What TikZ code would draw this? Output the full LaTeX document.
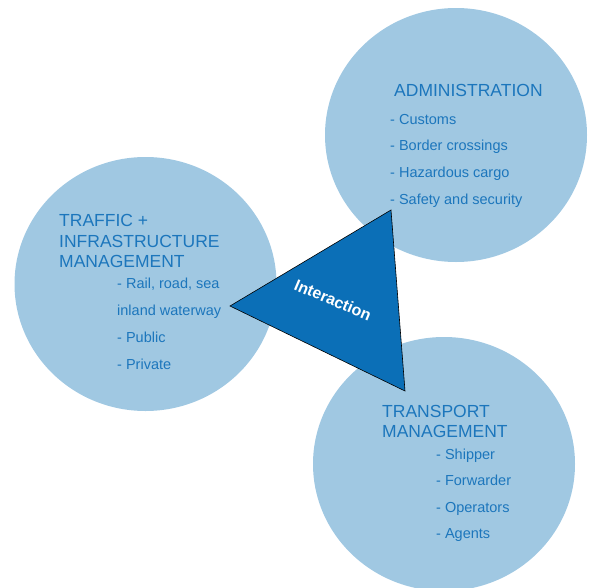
\documentclass[tikz,border=0pt]{standalone}
\usepackage{fontspec}
\setmainfont{Liberation Sans}
\usepackage{tikz}
\usetikzlibrary{calc}
\usetikzlibrary{positioning}
\usetikzlibrary{shapes.geometric}
\definecolor{circblue}{HTML}{A0C8E2}
\definecolor{textblue}{HTML}{1C76BC}
\definecolor{triblue}{HTML}{0B6FB7}
\tikzset{disc/.style={ellipse,fill=circblue,draw=none,inner sep=0pt,minimum width=262pt,minimum height=254pt}}
\tikzset{head/.style={anchor=base west,inner sep=0pt,text=textblue,font=\fontsize{17.5}{20}\selectfont}}
\tikzset{item/.style={anchor=base west,inner sep=0pt,text=textblue,font=\fontsize{14.5}{17}\selectfont}}

\begin{document}
\begin{tikzpicture}[x=1pt,y=-1pt]
\useasboundingbox (0,0) rectangle (592,587);
% the three fields
\node[disc](ADM) at (456,135){};
\node[disc](TIM) at (145.5,284){};
\node[disc](TRM) at (444,464){};

% triangle in the middle
\coordinate (T1) at (230,306);
\coordinate (T2) at (391,210);
\coordinate (T3) at (405,391);
\draw[fill=triblue,draw=black,line width=0.6pt] (T1)--(T2)--(T3)--cycle;
\node[text=white,rotate=-23,inner sep=0pt,font=\bfseries\fontsize{16}{18}\selectfont](INT) at (333,300){Interaction};

% administration
\node[head](ADMh) at (394,96.7){ADMINISTRATION};
\foreach \t [count=\i from 0] in {Customs,Border crossings,Hazardous cargo,Safety and security}{
\node[item](ADM\i) at (390,124+26.7*\i){- \t};
}

% traffic + infrastructure
\foreach \t [count=\i from 0] in {TRAFFIC +,INFRASTRUCTURE,MANAGEMENT}{
\node[head](TIMh\i) at (59,226.7+20.3*\i){\t};
}
\foreach \t [count=\i from 0] in {{- Rail, road, sea},{inland waterway},{- Public},{- Private}}{
\node[item](TIM\i) at (117,288.3+26.9*\i){\t};
}

% transport management
\foreach \t [count=\i from 0] in {TRANSPORT,MANAGEMENT}{
\node[head](TRMh\i) at (382,417+20.3*\i){\t};
}
\foreach \t [count=\i from 0] in {Shipper,Forwarder,Operators,Agents}{
\node[item](TRM\i) at (436,459.3+26.4*\i){- \t};
}

\end{tikzpicture}
\end{document}
